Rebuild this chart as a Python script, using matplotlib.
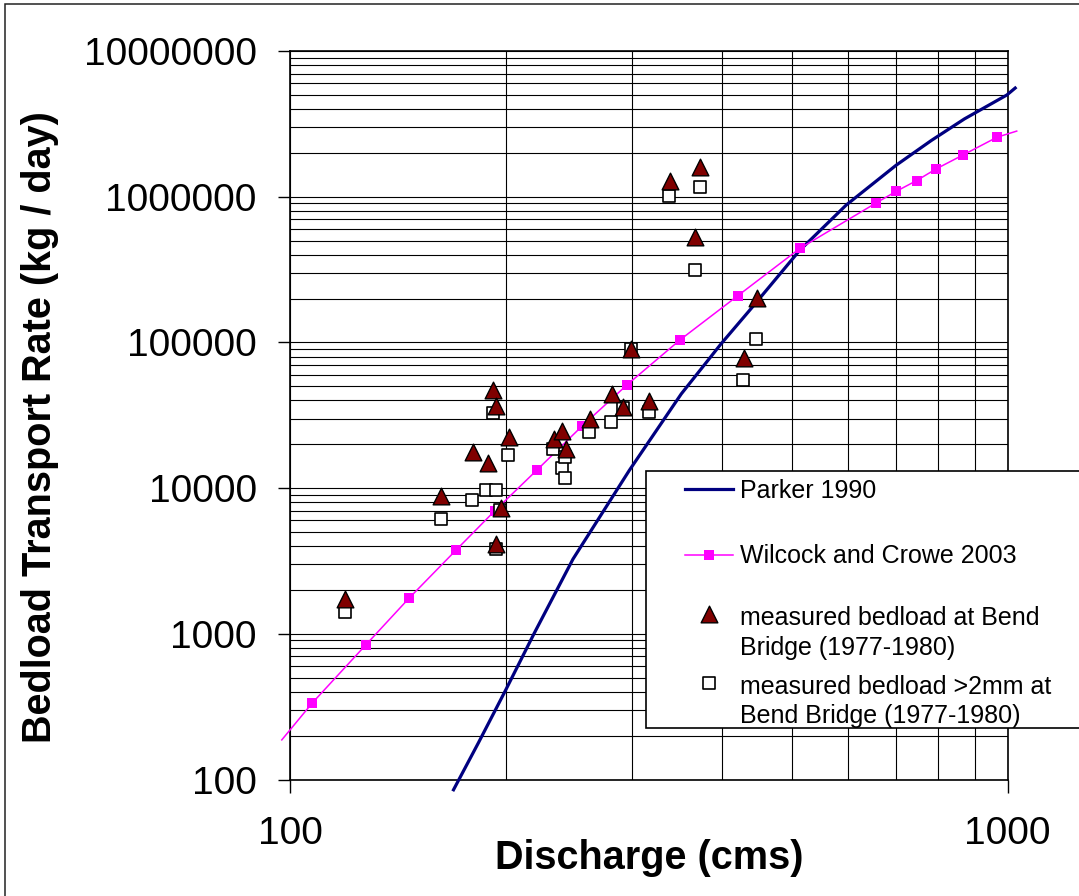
import matplotlib.pyplot as plt
from matplotlib.patches import Rectangle
from matplotlib.ticker import LogLocator, NullFormatter
import numpy as np

plt.rcParams['font.family'] = ['Liberation Sans', 'DejaVu Sans']

# Parker 1990 (line only)
parker_q = [169, 183, 200, 219, 248, 297, 351, 399, 440, 513, 596, 699, 783, 871, 998, 1025]
parker_qs = [85, 178, 415, 1010, 3260, 13200, 44300, 98000, 172500, 427000,
             877000, 1640000, 2430000, 3420000, 4990000, 5570000]

# Wilcock and Crowe 2003 (line + square markers, ends without marker)
wc_q = [97.4, 107.4, 127.6, 146.5, 170.2, 193, 221, 255.5, 295, 350, 421, 514,
        656, 700, 747, 795, 868, 967, 1030]
wc_qs = [187, 335, 841, 1754, 3734, 7000, 13340, 26750, 51200, 104500, 209300,
         443000, 906000, 1090000, 1290000, 1550000, 1940000, 2560000, 2820000]

# measured bedload at Bend Bridge
tri_q = [119.3, 162.4, 180, 188.8, 192, 193.7, 202.1, 196.8, 193.7, 233.4, 239.6,
         242.6, 261.6, 281, 291.3, 316.1, 299, 338.8, 373, 367, 447.6, 428.8]
tri_qs = [1720, 8790, 17600, 14800, 47000, 36500, 22300, 7300, 4110, 21600, 24550,
          18460, 29700, 44100, 36100, 39700, 89800, 1285000, 1590000, 533000,
          203200, 78700]

# measured bedload >2mm at Bend Bridge
sq_q = [119.3, 162.4, 179.4, 187.6, 193.7, 191.6, 201.6, 193.5, 196.2, 232.9, 239.3,
        241.6, 241.9, 261, 280.4, 291.3, 316, 299, 337.9, 372.4, 366.4, 446.2, 427.9]
sq_qs = [1403, 6105, 8240, 9700, 9700, 33000, 16900, 3800, 7070, 18670, 13830,
         11810, 16450, 24450, 28630, 35200, 33300, 90800, 1004000, 1170000, 315000,
         105200, 55000]

xticks = [100, 1000]
yticks = [100, 1000, 10000, 100000, 1000000, 10000000]

W, H = 1079, 896
fig = plt.figure(figsize=(W / 100, H / 100), dpi=100)
ax = fig.add_axes([290 / W, 1 - 779.5 / H, 717.5 / W, 728.5 / H])
ax.set_xscale('log')
ax.set_yscale('log')

parker_line, = ax.plot(parker_q, parker_qs, color='#000080', lw=2.3, clip_on=False, zorder=3)
wc_line, = ax.plot(wc_q, wc_qs, color='#FF00FF', lw=1.1, marker='s', markersize=6.5,
                   markeredgewidth=0, markevery=slice(1, len(wc_q) - 1),
                   clip_on=False, zorder=4)
sq_sc = ax.scatter(sq_q, sq_qs, marker='s', s=9 ** 2, facecolor='white',
                   edgecolor='black', linewidth=1.2, zorder=5)
tri_sc = ax.scatter(tri_q, tri_qs, marker='^', s=12 ** 2, facecolor='#800000',
                    edgecolor='black', linewidth=1.0, zorder=6)

ax.set_xlim(100, 1000)
ax.set_ylim(100, 10000000)
ax.set_xticks(xticks, labels=[str(v) for v in xticks])
ax.set_yticks(yticks, labels=[str(v) for v in yticks])
ax.xaxis.set_minor_locator(LogLocator(base=10, subs=np.arange(2, 10), numticks=20))
ax.yaxis.set_minor_locator(LogLocator(base=10, subs=np.arange(2, 10), numticks=20))
ax.xaxis.set_minor_formatter(NullFormatter())
ax.yaxis.set_minor_formatter(NullFormatter())
ax.tick_params(which='minor', length=0)
ax.tick_params(which='major', direction='out', length=9, width=1, colors='black', labelsize=28)
ax.tick_params(axis='x', which='major', pad=17)
ax.tick_params(axis='y', which='major', pad=15)
ax.grid(which='both', color='black', lw=0.8)
ax.set_axisbelow(True)
for sp in ax.spines.values():
    sp.set_linewidth(1.2)
    sp.set_color('black')

ax.set_xlabel('Discharge (cms)', fontsize=28.5, fontweight='bold')
ax.xaxis.set_label_coords(0.501, -0.0817)
ax.set_ylabel('Bedload Transport Rate (kg / day)', fontsize=28.5, fontweight='bold')
ax.yaxis.set_label_coords(-0.3226, 0.4832)

# legend box
fig.add_artist(Rectangle((646 / W, 1 - 728 / H), (1100 - 646) / W, (728 - 471) / H,
                         transform=fig.transFigure, facecolor='white',
                         edgecolor='black', lw=1.2, zorder=4))
fig.legend([parker_line, wc_line], ['Parker 1990', 'Wilcock and Crowe 2003'],
           loc='upper left', bbox_to_anchor=(685 / W, 1 - 479 / H), frameon=False,
           fontsize=18, handlelength=1.92, handletextpad=0.28, labelspacing=1.65,
           borderpad=0, borderaxespad=0)
leg_b = fig.legend([tri_sc, sq_sc],
                   ['measured bedload at Bend\nBridge (1977-1980)',
                    'measured bedload >2mm at\nBend Bridge (1977-1980)'],
                   loc='upper left', bbox_to_anchor=(685 / W, 1 - 606 / H), frameon=False,
                   fontsize=18, handlelength=1.92, handletextpad=0.28, labelspacing=0.6,
                   borderpad=0, borderaxespad=0, scatterpoints=1, scatteryoffsets=[1.6])
for t in leg_b.get_texts():
    t.set_linespacing(1.3)

# outer border of the picture
fig.add_artist(Rectangle((4.5 / W, -0.1), 1.5, 1.1 - 4 / H, transform=fig.transFigure,
                         fill=False, edgecolor='#222222', lw=1.1, zorder=10))

fig.savefig('out.png', dpi=100)
